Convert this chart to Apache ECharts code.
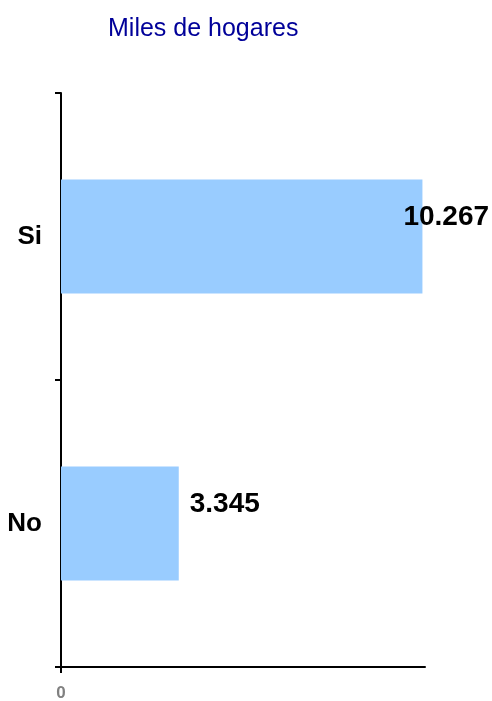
<html>
  <head>
    <meta charset="utf-8" />
    <script src="https://cdn.jsdelivr.net/npm/echarts@6/dist/echarts.min.js"></script>
  </head>
  <body>
    <style>
      html,
      body,
      #main {
        width: 100%;
        height: 100%;
        margin: 0;
      }
    </style>
    <div id="main"></div>
    <script>
      var chart = echarts.init(document.getElementById('main'));

      // categories bottom to top
      var categories = ['No', 'Si'];
      var values = [3345, 10267];
      var valueLabels = ['3.345', '10.267'];
      var axisMax = 10340;

      var font = 'Liberation Sans, Arial, sans-serif';

      var option = {
        animation: false,
        title: {
          text: 'Miles de hogares',
          left: 103,
          top: 12,
          textStyle: {
            color: '#000099',
            fontFamily: font,
            fontSize: 25,
            fontWeight: 'normal',
          },
        },
        grid: {
          left: 61,
          right: 67,
          top: 93,
          bottom: 34,
          containLabel: false,
          outerBoundsMode: 'none',
        },
        xAxis: {
          type: 'value',
          min: 0,
          max: axisMax,
          splitLine: { show: false },
          axisLine: { show: true, lineStyle: { color: '#000', width: 2 } },
          axisTick: {
            show: true,
            customValues: [0],
            length: 6,
            lineStyle: { color: '#000', width: 2 },
          },
          axisLabel: {
            customValues: [0],
            margin: 18,
            color: '#808080',
            fontFamily: font,
            fontSize: 17,
            fontWeight: 'bold',
          },
        },
        yAxis: {
          type: 'category',
          data: categories,
          axisLine: { show: true, lineStyle: { color: '#000', width: 2 } },
          axisTick: {
            show: true,
            length: 6,
            lineStyle: { color: '#000', width: 2 },
          },
          axisLabel: {
            margin: 19,
            color: '#000',
            fontFamily: font,
            fontSize: 26,
            fontWeight: 'bold',
          },
        },
        series: [
          {
            type: 'bar',
            barWidth: 114,
            itemStyle: { color: '#99ccff' },
            data: values.map(function (v, i) {
              return {
                value: v,
                label: {
                  show: true,
                  position: 'right',
                  distance: i === 1 ? -19 : 11,
                  offset: [0, -19],
                  formatter: valueLabels[i],
                  color: '#000',
                  fontFamily: font,
                  fontSize: 28,
                  fontWeight: 'bold',
                },
              };
            }),
          },
        ],
      };

      chart.setOption(option);

      window.onresize = function () {
        chart.resize();
      };
    </script>
  </body>
</html>
